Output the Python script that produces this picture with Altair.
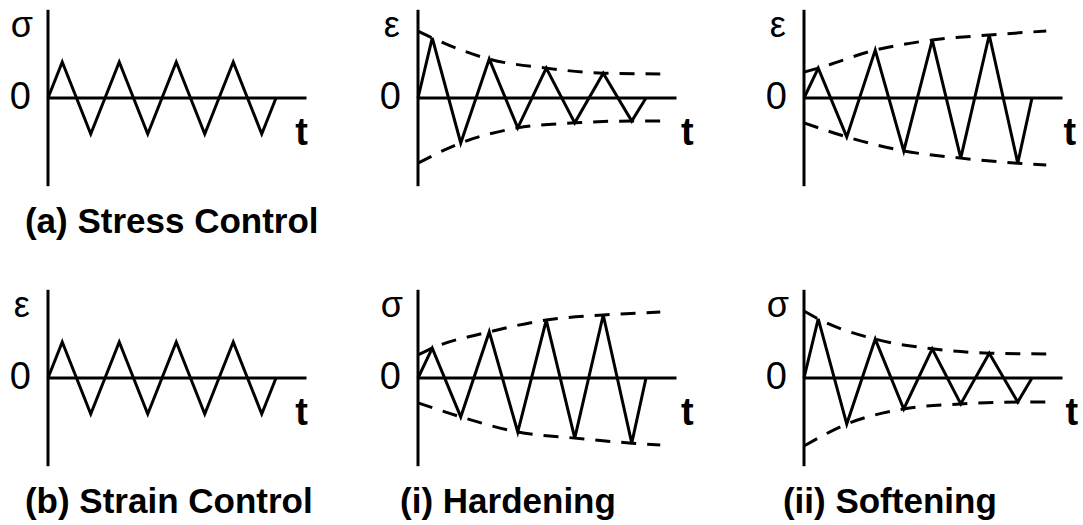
import altair as alt
import pandas as pd

# Vertex times of the triangular load waveform (one half cycle = 1 time unit)
T_WAVE = [0, 0.5, 1.5, 2.5, 3.5, 4.5, 5.5, 6.5, 7.5, 8.0]
# Times where the dashed envelopes are sampled (peaks / troughs)
T_UPPER = [0, 0.5, 2.5, 4.5, 6.5, 8.5]
T_LOWER = [0, 1.5, 3.5, 5.5, 7.5, 8.5]

# Controlled quantity: constant amplitude
STRESS_CONTROL = [0, 1.0, -1.0, 1.0, -1.0, 1.0, -1.0, 1.0, -1.0, 0]
STRAIN_CONTROL = [0, 1.0, -1.0, 1.0, -1.0, 1.0, -1.0, 1.0, -1.0, 0]

# Strain response under stress control
STRAIN_HARDENING = [0, 1.67, -1.25, 1.08, -0.83, 0.83, -0.69, 0.69, -0.64, 0]
STRAIN_HARD_UP = [1.86, 1.67, 1.08, 0.83, 0.69, 0.67]
STRAIN_HARD_LO = [-1.81, -1.25, -0.83, -0.69, -0.64, -0.64]

STRAIN_SOFTENING = [0, 0.83, -1.08, 1.33, -1.47, 1.61, -1.67, 1.75, -1.81, 0]
STRAIN_SOFT_UP = [0.72, 0.83, 1.33, 1.61, 1.75, 1.86]
STRAIN_SOFT_LO = [-0.69, -1.08, -1.47, -1.67, -1.81, -1.86]

# Stress response under strain control
STRESS_HARDENING = [0, 0.83, -1.08, 1.28, -1.50, 1.61, -1.67, 1.75, -1.81, 0]
STRESS_HARD_UP = [0.64, 0.83, 1.28, 1.61, 1.75, 1.83]
STRESS_HARD_LO = [-0.69, -1.08, -1.50, -1.67, -1.81, -1.86]

STRESS_SOFTENING = [0, 1.64, -1.28, 1.08, -0.86, 0.81, -0.72, 0.69, -0.67, 0]
STRESS_SOFT_UP = [1.86, 1.64, 1.08, 0.81, 0.69, 0.67]
STRESS_SOFT_LO = [-1.89, -1.28, -0.86, -0.72, -0.67, -0.67]

SIGMA = "σ"
EPS = "ε"

# Layout (pixels)
PX_T = 28.5        # pixels per time unit
PX_A = 36.0        # pixels per amplitude unit
PANEL_W = 335
PANEL_H = 245
ZERO_FROM_TOP = 98
FONT = "Liberation Sans"
AXIS_TOP, AXIS_BOTTOM, AXIS_END = 2.45, -2.45, 9.07

ONE_ROW = pd.DataFrame({"k": [0]})


def panel(symbol, wave, upper=None, lower=None, title=None,
          left_margin=48, t_label_x=9.45, title_x=-0.75):
    x_scale = alt.Scale(domain=[-left_margin / PX_T, (PANEL_W - left_margin) / PX_T],
                        nice=False, zero=False)
    y_scale = alt.Scale(domain=[-(PANEL_H - ZERO_FROM_TOP) / PX_A, ZERO_FROM_TOP / PX_A],
                        nice=False, zero=False)
    X = lambda f: alt.X(f, type="quantitative", scale=x_scale, axis=None)
    Y = lambda f: alt.Y(f, type="quantitative", scale=y_scale, axis=None)
    xd = lambda v: alt.datum(v, scale=x_scale, axis=None)
    yd = lambda v: alt.datum(v, scale=y_scale, axis=None)

    single = alt.Chart(ONE_ROW)

    v_axis = single.mark_rule(color="black", strokeWidth=3).encode(
        x=xd(0), y=yd(AXIS_BOTTOM), y2=alt.datum(AXIS_TOP)
    )
    h_axis = single.mark_rule(color="black", strokeWidth=3).encode(
        y=yd(0), x=xd(0), x2=alt.datum(AXIS_END)
    )
    line = alt.Chart(pd.DataFrame({"t": T_WAVE, "v": wave})).mark_line(
        color="black", strokeWidth=3, strokeJoin="miter"
    ).encode(x=X("t"), y=Y("v"), order="t:Q")
    layers = [v_axis, h_axis, line]

    if upper is not None:
        env = pd.concat([
            pd.DataFrame({"t": T_UPPER, "v": upper, "side": "upper"}),
            pd.DataFrame({"t": T_LOWER, "v": lower, "side": "lower"}),
        ])
        layers.append(
            alt.Chart(env).mark_line(color="black", strokeWidth=3,
                                     strokeDash=[15, 11], interpolate="monotone").encode(
                x=X("t"), y=Y("v"), detail="side:N", order="t:Q"
            )
        )

    sym = single.mark_text(text=symbol, font=FONT, fontSize=36, align="center",
                           baseline="middle", color="black").encode(x=xd(-0.92), y=yd(2.0))
    zero = single.mark_text(text="0", font=FONT, fontSize=38, align="center",
                            baseline="middle", color="black").encode(x=xd(-0.97), y=yd(0))
    tlab = single.mark_text(text="t", font=FONT, fontSize=38, fontWeight="bold",
                            align="center", baseline="middle",
                            color="black").encode(x=xd(t_label_x), y=yd(-1.0))
    layers += [sym, zero, tlab]

    if title:
        layers.append(
            single.mark_text(text=title, font=FONT, fontSize=35, fontWeight="bold",
                             align="left", baseline="middle",
                             color="black").encode(x=xd(title_x), y=yd(-3.45))
        )

    return alt.layer(*layers).properties(width=PANEL_W, height=PANEL_H)


panels = [
    panel(SIGMA, STRESS_CONTROL, title="(a) Stress Control", t_label_x=8.9, title_x=-0.81),
    panel(EPS, STRAIN_HARDENING, STRAIN_HARD_UP, STRAIN_HARD_LO),
    panel(EPS, STRAIN_SOFTENING, STRAIN_SOFT_UP, STRAIN_SOFT_LO, left_margin=64, t_label_x=9.33),
    panel(EPS, STRAIN_CONTROL, title="(b) Strain Control", t_label_x=8.9, title_x=-0.81),
    panel(SIGMA, STRESS_HARDENING, STRESS_HARD_UP, STRESS_HARD_LO,
          title="(i) Hardening", title_x=-0.63),
    panel(SIGMA, STRESS_SOFTENING, STRESS_SOFT_UP, STRESS_SOFT_LO,
          title="(ii) Softening", left_margin=64, t_label_x=9.4, title_x=-0.74),
]

chart = alt.concat(
    *panels, columns=3, spacing={"row": 35, "column": 35}, bounds="flush"
).resolve_scale(
    x="independent", y="independent"
).properties(
    padding=0, background="white"
).configure_view(stroke=None)

chart.save("out.html", embed_options={"renderer": "svg", "actions": False})
